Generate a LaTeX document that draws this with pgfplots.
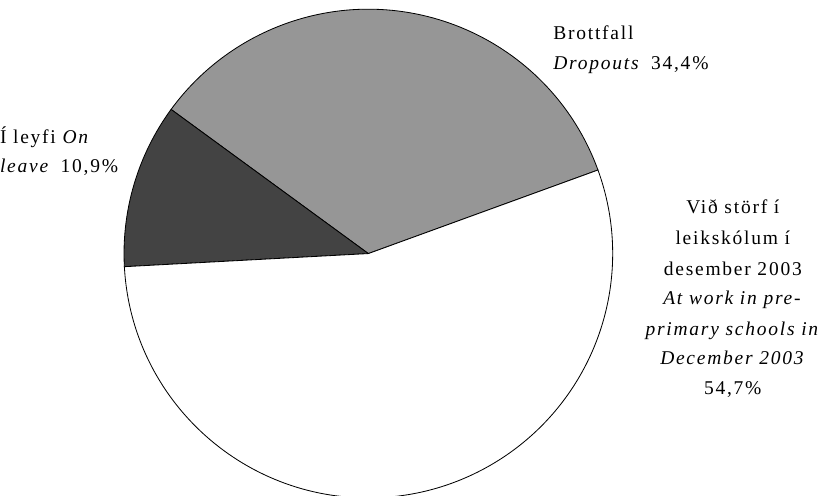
\documentclass[border=0pt]{standalone}
\usepackage{fontspec}
\setmainfont{Liberation Serif}[LetterSpace=9]
\usepackage{pgfplots}
\usepackage{pgfplotstable}
\pgfplotsset{compat=1.18}

% shares in percent, counter-clockwise from the start angle
\pgfplotstableread{
share
34.4
10.9
54.7
}\piedata

\begin{document}
\begin{tikzpicture}
\pgfplotstablegetelem{0}{share}\of\piedata \let\sA\pgfplotsretval
\pgfplotstablegetelem{1}{share}\of\piedata \let\sB\pgfplotsretval
\pgfplotstablegetelem{2}{share}\of\piedata \let\sC\pgfplotsretval
\pgfmathsetmacro\aA{20}
\pgfmathsetmacro\aB{\aA+3.6*\sA}
\pgfmathsetmacro\aC{\aB+3.6*\sB}
\pgfmathsetmacro\aD{\aC+3.6*\sC}
\def\R{238pt}
\begin{axis}[
    scale only axis,
    width=820pt, height=483pt,
    xmin=0, xmax=820,
    ymin=0, ymax=483,
    hide axis,
    clip=true,
]
\filldraw[fill={rgb,255:red,150;green,150;blue,150}, draw=black, line width=0.8pt]
    (axis cs:372,236) -- ++(\aA:\R) arc[start angle=\aA, end angle=\aB, radius=\R] -- cycle;
\filldraw[fill={rgb,255:red,67;green,67;blue,67}, draw=black, line width=0.8pt]
    (axis cs:372,236) -- ++(\aB:\R) arc[start angle=\aB, end angle=\aC, radius=\R] -- cycle;
\filldraw[fill=white, draw=black, line width=0.8pt]
    (axis cs:372,236) -- ++(\aC:\R) arc[start angle=\aC, end angle=\aD, radius=\R] -- cycle;

\begin{scope}[font=\fontsize{19}{30}\selectfont]
\node[anchor=base west, inner sep=0pt] at (axis cs:552,445) {Brottfall};
\node[anchor=base west, inner sep=0pt] at (axis cs:552,415) {\textit{Dropouts}\hspace{4pt} 34,4\%};

\node[anchor=base west, inner sep=0pt] at (axis cs:13,343) {Í leyfi \textit{On}};
\node[anchor=base west, inner sep=0pt] at (axis cs:13,315) {\textit{leave}\hspace{4pt} 10,9\%};

\node[anchor=base, inner sep=0pt] at (axis cs:727,275) {Við störf í};
\node[anchor=base, inner sep=0pt] at (axis cs:727,245) {leikskólum í};
\node[anchor=base, inner sep=0pt] at (axis cs:727,215) {desember 2003};
\node[anchor=base, inner sep=0pt] at (axis cs:727,186) {\textit{At work in pre-}};
\node[anchor=base, inner sep=0pt] at (axis cs:727,156) {\textit{primary schools in}};
\node[anchor=base, inner sep=0pt] at (axis cs:727,128) {\textit{December 2003}};
\node[anchor=base, inner sep=0pt] at (axis cs:727,99) {54,7\%};
\end{scope}
\end{axis}
\end{tikzpicture}
\end{document}
